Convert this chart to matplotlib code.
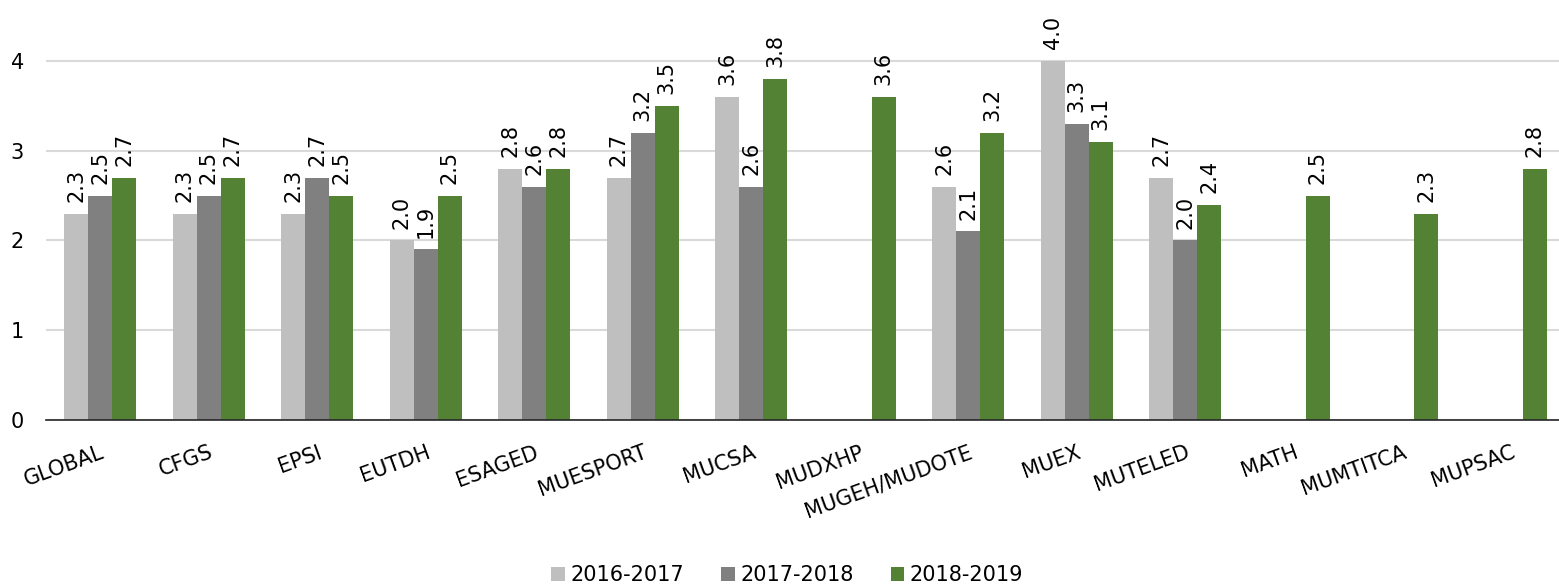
import numpy as np
import matplotlib.pyplot as plt

# datos
categorias = ['GLOBAL', 'CFGS', 'EPSI', 'EUTDH', 'ESAGED', 'MUESPORT', 'MUCSA',
              'MUDXHP', 'MUGEH/MUDOTE', 'MUEX', 'MUTELED', 'MATH', 'MUMTITCA', 'MUPSAC']
series = ['2016-2017', '2017-2018', '2018-2019']
v_2016 = [2.3, 2.3, 2.3, 2.0, 2.8, 2.7, 3.6, None, 2.6, 4.0, 2.7, None, None, None]
v_2017 = [2.5, 2.5, 2.7, 1.9, 2.6, 3.2, 2.6, None, 2.1, 3.3, 2.0, None, None, None]
v_2018 = [2.7, 2.7, 2.5, 2.5, 2.8, 3.5, 3.8, 3.6, 3.2, 3.1, 2.4, 2.5, 2.3, 2.8]
colores = ['#BFBFBF', '#808080', '#548235']

fig = plt.figure(figsize=(15.59, 5.85), dpi=100)
ax = fig.add_axes([46 / 1559, 165 / 585, (1565 - 46) / 1559, 404 / 585])

x = np.arange(len(categorias))
ancho = 0.22
for i, (vals, nombre, col) in enumerate(zip([v_2016, v_2017, v_2018], series, colores)):
    pos = x + (i - 1) * ancho
    alturas = [np.nan if v is None else v for v in vals]
    ax.bar(pos, alturas, width=ancho, color=col, label=nombre, zorder=3)
    for px, v in zip(pos, vals):
        if v is None:
            continue
        ax.text(px, v + 0.13, f'{v:.1f}', rotation=90, ha='center', va='bottom',
                fontsize=15, color='black', zorder=4)

ax.set_xlim(-0.5, len(categorias) - 0.5)
ax.set_ylim(0, 4.5)
ax.set_yticks([0, 1, 2, 3, 4])
ax.set_xticks(x)
ax.set_xticklabels(categorias, rotation=20, ha='right', rotation_mode='anchor', fontsize=15)
ax.tick_params(axis='both', length=0, labelsize=15, colors='black')
ax.tick_params(axis='y', pad=16)
ax.tick_params(axis='x', pad=16)
ax.grid(axis='y', color='#D9D9D9', linewidth=1.5, zorder=0)
for s in ['top', 'right', 'left']:
    ax.spines[s].set_visible(False)
ax.spines['bottom'].set_color('#262626')
ax.spines['bottom'].set_linewidth(1.2)
ax.spines['bottom'].set_zorder(5)

fig.legend(loc='center', bbox_to_anchor=(0.505, 1 - 575 / 585), ncol=3, frameon=False,
           fontsize=15, handlelength=0.65, handleheight=0.65, handletextpad=0.25,
           columnspacing=1.8)

plt.savefig('out.png', dpi=100)
